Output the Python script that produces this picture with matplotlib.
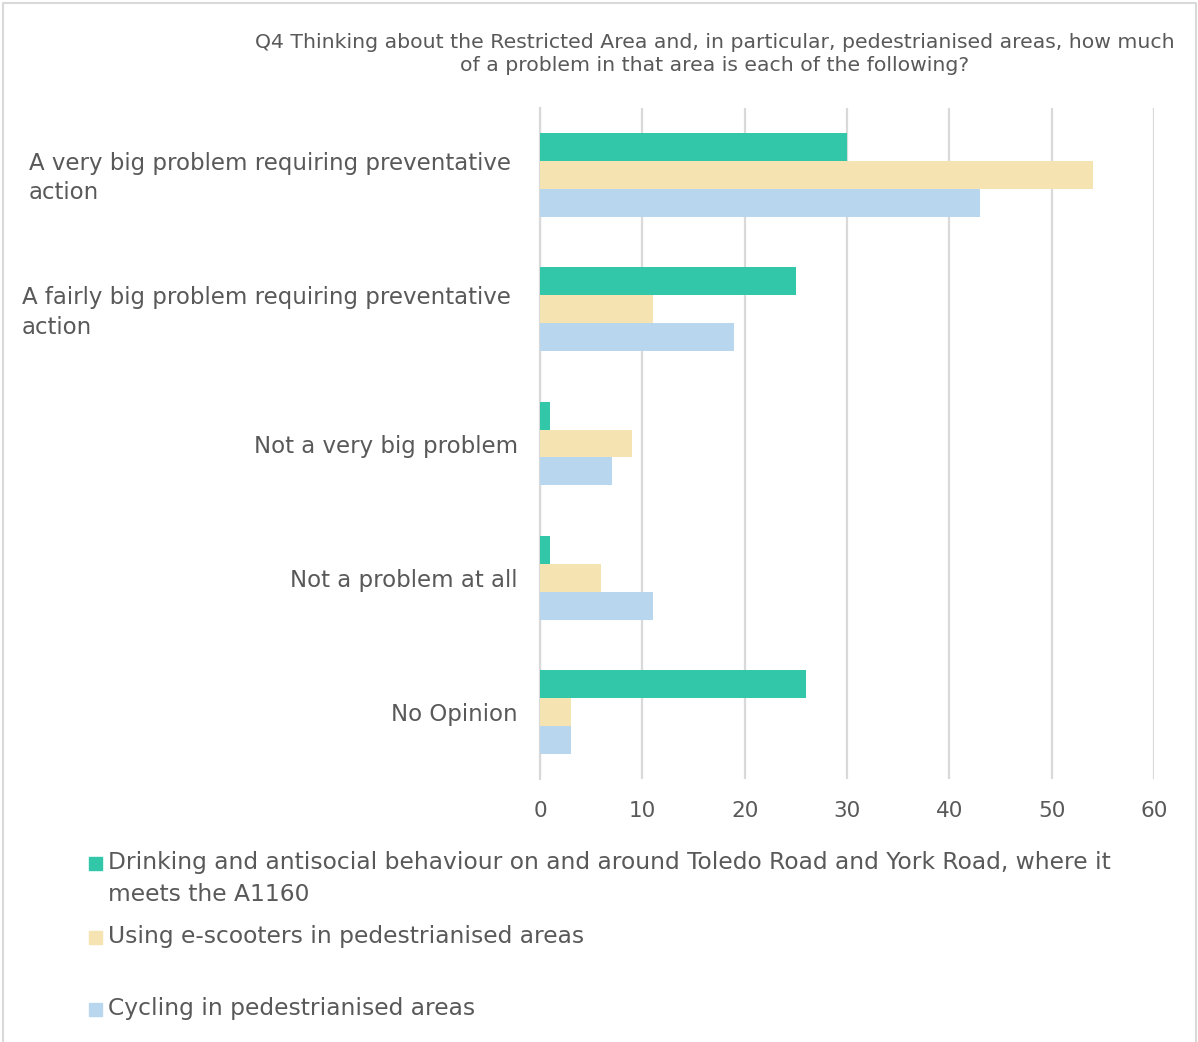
import numpy as np
import matplotlib.pyplot as plt
from matplotlib.patches import Rectangle
from matplotlib.transforms import offset_copy

plt.rcParams['font.family'] = ['DejaVu Sans']
plt.rcParams['text.color'] = '#595959'

# 数据
categories = ['A very big problem requiring preventative\naction',
              'A fairly big problem requiring preventative\naction',
              'Not a very big problem',
              'Not a problem at all',
              'No Opinion']
series_names = ['Drinking and antisocial behaviour on and around Toledo Road and York Road, where it\nmeets the A1160',
                'Using e-scooters in pedestrianised areas',
                'Cycling in pedestrianised areas']
drinking = [30, 25, 1, 1, 26]
scooters = [54, 11, 9, 6, 3]
cycling = [43, 19, 7, 11, 3]
colors = ['#33C7A9', '#F5E4B1', '#B8D7EF']
title = ('Q4 Thinking about the Restricted Area and, in particular, pedestrianised areas, how much\n'
         'of a problem in that area is each of the following?')

W, H = 1198, 1042
fig = plt.figure(figsize=(W / 100, H / 100), dpi=100)
ax = fig.add_axes([540 / W, 1 - 779 / H, 614 / W, 671 / H])

y = np.arange(len(categories))
h = 0.208
for i, vals in enumerate([drinking, scooters, cycling]):
    ax.barh(y + (i - 1) * h, vals, height=h, color=colors[i], zorder=3)

ax.set_xlim(0, 60)
ax.set_ylim(len(categories) - 0.5, -0.5)
ax.set_xticks(range(0, 61, 10))
ax.set_yticks(y)
ax.set_yticklabels(categories, fontsize=16.5, color='#595959',
                   multialignment='left', linespacing=1.38)
ax.tick_params(axis='x', length=0, pad=16, labelsize=15.5, labelcolor='#595959')
ax.tick_params(axis='y', length=0, pad=16)
# 两行的标签稍微往左
for lab in ax.get_yticklabels():
    if '\n' in lab.get_text():
        lab.set_transform(offset_copy(lab.get_transform(), fig=fig, x=-7, y=3, units='dots'))
ax.grid(axis='x', color='#D9D9D9', linewidth=1.6, zorder=0)
for s in ['top', 'right', 'bottom']:
    ax.spines[s].set_visible(False)
ax.spines['left'].set_color('#D9D9D9')
ax.spines['left'].set_linewidth(1.6)

fig.text(715 / W, 1 - 54 / H, title, ha='center', va='center', fontsize=14.7,
         color='#595959', linespacing=1.3)

# 图例
leg_y = [863, 937, 1009]
for i, name in enumerate(series_names):
    yy = 1 - leg_y[i] / H
    fig.patches.append(Rectangle((89 / W, yy - 6.5 / H), 13 / W, 13 / H,
                                 transform=fig.transFigure, color=colors[i]))
    fig.text(108 / W, yy + 12 / H, name, ha='left', va='top', fontsize=16.8,
             color='#595959', linespacing=1.5)

# 外框
fig.lines.append(plt.Line2D([3 / W, 3 / W, 1196 / W, 1196 / W],
                            [0, 1 - 3 / H, 1 - 3 / H, 0],
                            transform=fig.transFigure, color='#D9D9D9', linewidth=1.5))

fig.savefig('out.png', dpi=100)
